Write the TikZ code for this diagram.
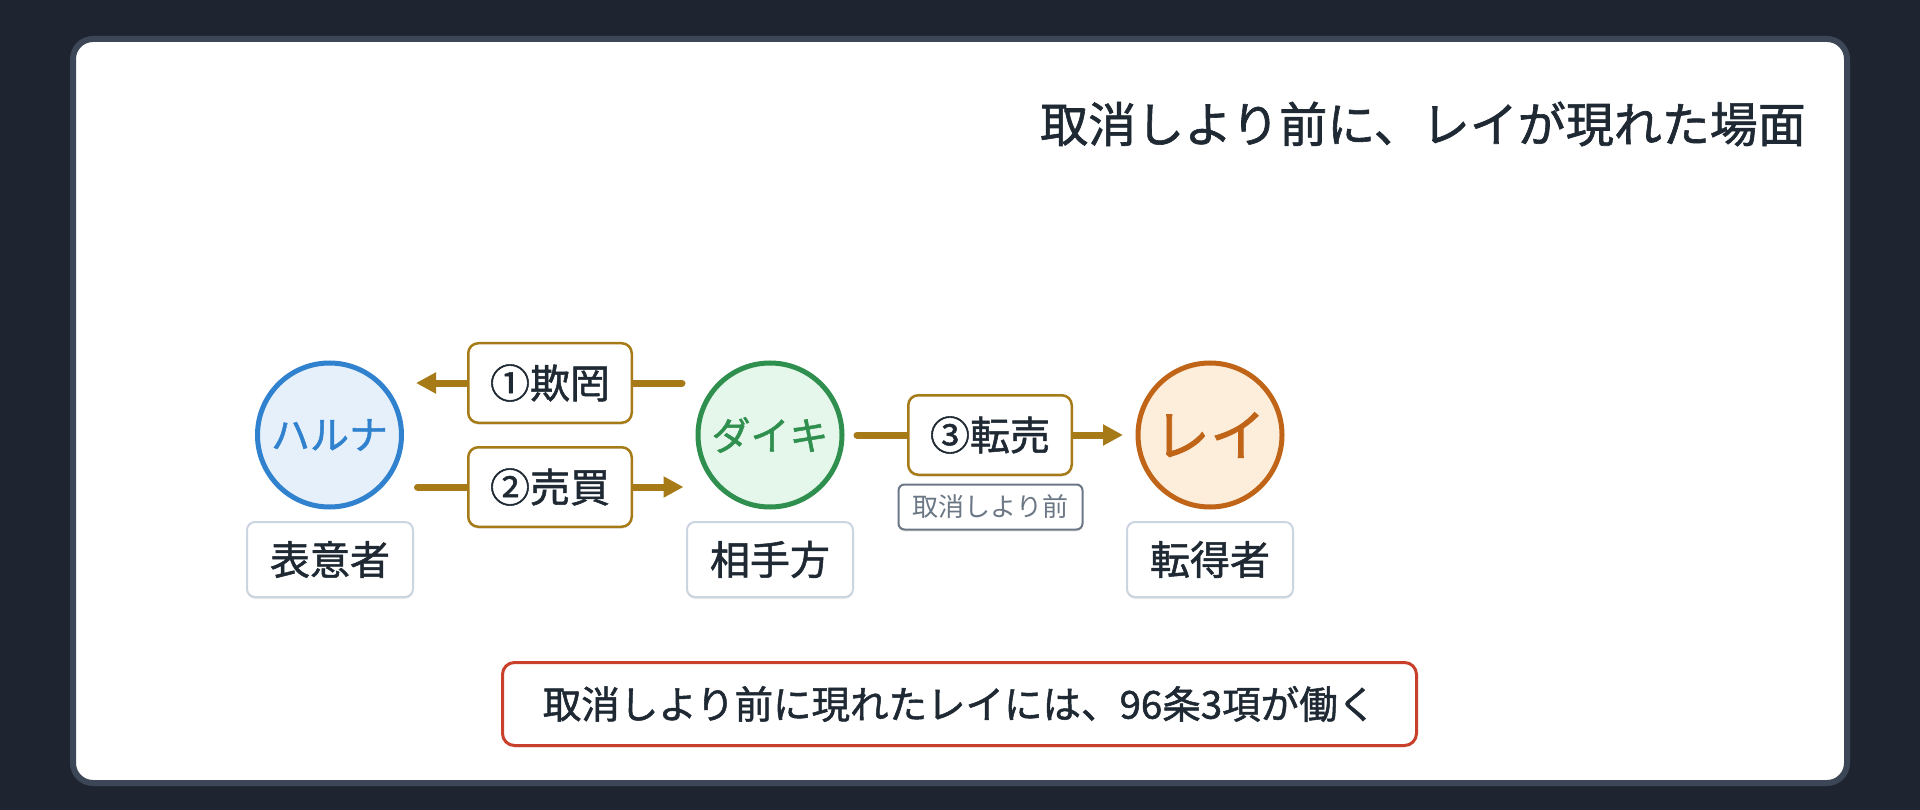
\documentclass[tikz,border=0pt]{standalone}
\usepackage{fontspec}
\setmainfont{Noto Sans CJK JP}
\newfontfamily\midweight[FakeBold=1.3]{Noto Sans CJK JP}
\usetikzlibrary{arrows.meta,shadows}

\definecolor{pagebg}{HTML}{1E2530}
\definecolor{cardedge}{HTML}{3D4656}
\definecolor{inkdark}{HTML}{1F2933}
\definecolor{harunablue}{HTML}{3182CE}
\definecolor{harunafill}{HTML}{E6F0FB}
\definecolor{daikigreen}{HTML}{2F8F4E}
\definecolor{daikifill}{HTML}{E5F6EA}
\definecolor{reiorange}{HTML}{C06518}
\definecolor{reifill}{HTML}{FDEEDC}
\definecolor{actgold}{HTML}{A57A17}
\definecolor{roleedge}{HTML}{CBD5E1}
\definecolor{taggray}{HTML}{6B7785}
\definecolor{rulered}{HTML}{C8402B}

\pgfdeclarelayer{base}
\pgfdeclarelayer{wires}
\pgfsetlayers{base,wires,main}

\begin{document}
\begin{tikzpicture}[x=1pt, y=-1pt,
    softshadow/.style={drop shadow={shadow xshift=0pt, shadow yshift=-2pt, opacity=0.08, fill=black}},
    heading/.style={anchor=east, inner sep=0pt, text=inkdark, font=\midweight\fontsize{48}{56}\selectfont},
    person/.style={circle, minimum size=144pt, line width=5pt, inner sep=0pt, softshadow, font=\midweight\fontsize{39}{44}\selectfont},
    role/.style={draw=roleedge, line width=2pt, rounded corners=8pt, fill=white, minimum width=166pt, minimum height=75pt, inner sep=0pt, text=inkdark, softshadow, font=\midweight\fontsize{40}{46}\selectfont},
    act/.style={draw=actgold, line width=2.5pt, rounded corners=10pt, fill=white, minimum width=163.5pt, minimum height=79.5pt, inner sep=0pt, text=inkdark, softshadow, font=\midweight\fontsize{40}{46}\selectfont},
    tag/.style={draw=taggray, line width=2pt, rounded corners=6pt, fill=white, minimum width=184pt, minimum height=45pt, inner sep=0pt, text=taggray, softshadow, font=\fontsize{26}{30}\selectfont},
    summary/.style={draw=rulered, line width=3pt, rounded corners=12pt, fill=white, minimum width=914pt, minimum height=83pt, inner sep=0pt, text=inkdark, softshadow, font=\midweight\fontsize{38.5}{44}\selectfont},
    flow/.style={draw=actgold, line width=7pt, line cap=round, -{Triangle[length=20pt,width=20pt]}}
  ]
    % Page and card
    \begin{pgfonlayer}{base}
      \fill[pagebg] (0,0) rectangle (1920,810);
      \draw[cardedge, line width=6pt, fill=white, rounded corners=20pt] (73,39) rectangle (1847,783);
    \end{pgfonlayer}

    % Title
    \node[heading] (title) at (1806,124) {取消しより前に、レイが現れた場面};

    % People
    \node[person, draw=harunablue, fill=harunafill, text=harunablue] (haruna) at (329.5,435) {ハルナ};
    \node[person, draw=daikigreen, fill=daikifill, text=daikigreen] (daiki) at (770,435) {ダイキ};
    \node[person, draw=reiorange, fill=reifill, text=reiorange, font=\midweight\fontsize{56}{62}\selectfont] (rei) at (1210,435) {レイ};

    % Roles
    \node[role] (hyoui) at (330,559.5) {表意者};
    \node[role] (aite) at (770,559.5) {相手方};
    \node[role] (tentoku) at (1210,559.5) {転得者};

    % Acts
    \node[act] (kyomo) at (550,383) {①欺罔};
    \node[act] (baibai) at (550,487) {②売買};
    \node[act] (tenbai) at (990,435) {③転売};
    \node[tag] (maekome) at (990.5,507) {取消しより前};

    % Arrows
    \begin{pgfonlayer}{wires}
      \draw[flow, shorten <=13.5pt, shorten >=12pt] (daiki.west |- kyomo) -- (haruna.east |- kyomo);
      \draw[flow, shorten <=13.5pt, shorten >=12pt] (haruna.east |- baibai) -- (daiki.west |- baibai);
      \draw[flow, shorten <=12.5pt, shorten >=12.5pt] (daiki) -- (rei);
    \end{pgfonlayer}

    % Summary
    \node[summary] (rule) at (959.5,704) {取消しより前に現れたレイには、96条3項が働く};
\end{tikzpicture}
\end{document}
